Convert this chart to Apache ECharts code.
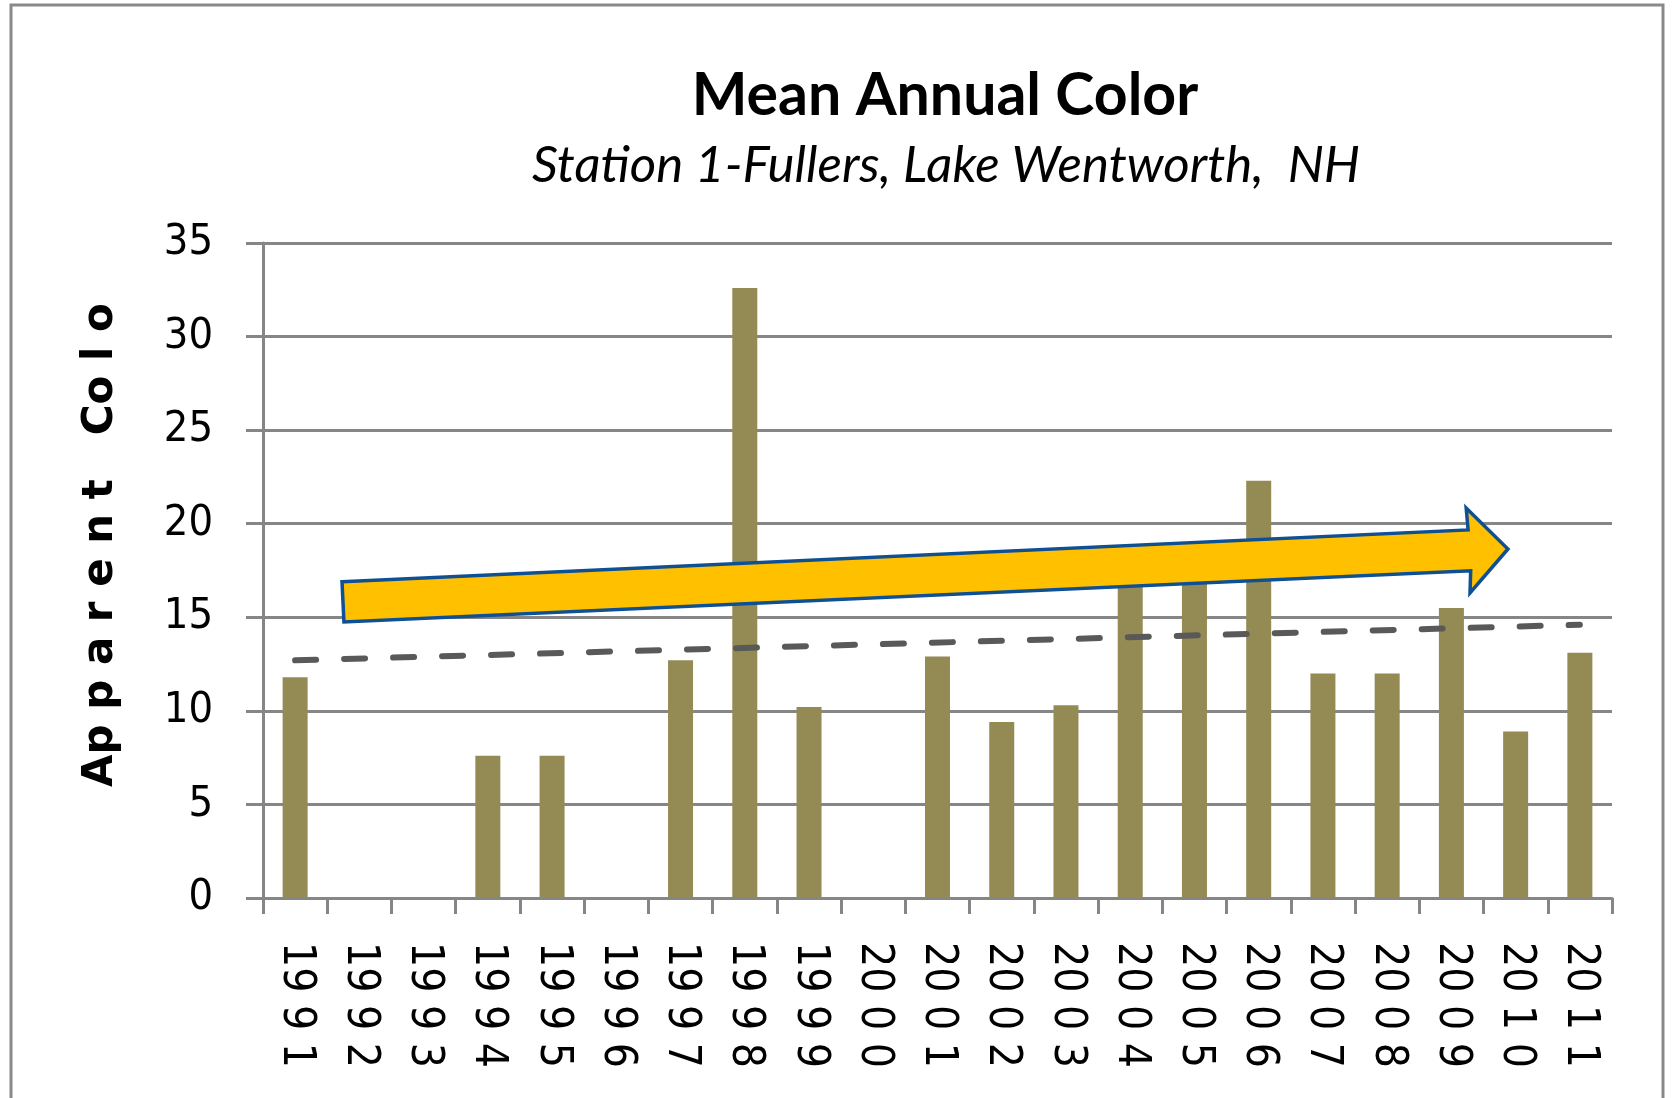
<!DOCTYPE html>
<html>
<head>
<meta charset="utf-8">
<title>Mean Annual Color</title>
<script src="https://cdn.jsdelivr.net/npm/echarts@6/dist/echarts.min.js"></script>
<style>
    html, body { margin: 0; padding: 0; background: #ffffff; }
    #chart { width: 1674px; height: 1098px; }
</style>
</head>
<body>
<div id="chart"></div>
<script>
    // data
    var years = ['1991', '1992', '1993', '1994', '1995', '1996', '1997', '1998', '1999', '2000',
        '2001', '2002', '2003', '2004', '2005', '2006', '2007', '2008', '2009', '2010', '2011'];
    var colorValues = [11.8, null, null, 7.6, 7.6, null, 12.7, 32.6, 10.2, null,
        12.9, 9.4, 10.3, 17.7, 18.0, 22.3, 12.0, 12.0, 15.5, 8.9, 13.1];
    var trendEnds = [12.7, 14.6];
    var yTicks = [0, 5, 10, 15, 20, 25, 30, 35];

    var titleText = 'Mean Annual Color';
    var subtitleText = 'Station 1-Fullers, Lake Wentworth,  NH';
    var yName = 'Ap p a r e n t   Co l o';

    var gray = '#868686';
    var labelFont = '"DejaVu Sans Condensed", "Liberation Sans", sans-serif';

    var trendData = years.map(function (y, i) {
        if (i === 0) return trendEnds[0];
        if (i === years.length - 1) return trendEnds[1];
        return null;
    });

    // yellow trend arrow, in (category index, value) space
    var arrowPoints = [
        [0.73, 16.9], [18.26, 19.67], [18.23, 20.84], [18.88, 18.65],
        [18.29, 16.30], [18.30, 17.48], [0.76, 14.75]
    ];

    var chart = echarts.init(document.getElementById('chart'));
    chart.setOption({
        animation: false,
        backgroundColor: '#ffffff',
        grid: {
            left: 263,
            right: 62,
            top: 243,
            bottom: 200
        },
        graphic: [
            {
                type: 'rect',
                shape: { x: 11, y: 5, width: 1652, height: 1200 },
                style: { fill: 'none', stroke: '#898989', lineWidth: 3 },
                silent: true
            },
            {
                type: 'text',
                x: 945,
                y: 96,
                style: {
                    text: titleText,
                    font: 'bold 59px Lato',
                    fill: '#000000',
                    align: 'center',
                    verticalAlign: 'middle'
                }
            },
            {
                type: 'text',
                x: 946,
                y: 166,
                style: {
                    text: subtitleText,
                    font: 'italic 51px Lato',
                    fill: '#000000',
                    align: 'center',
                    verticalAlign: 'middle'
                }
            },
            {
                type: 'text',
                x: 101,
                y: 787,
                rotation: Math.PI / 2,
                style: {
                    text: yName,
                    font: 'bold 42px "DejaVu Sans"',
                    fill: '#000000',
                    align: 'left',
                    verticalAlign: 'middle'
                }
            }
        ],
        xAxis: [
            {
                type: 'category',
                data: years,
                axisLine: { lineStyle: { color: gray, width: 3 } },
                axisTick: {
                    show: true,
                    interval: 0,
                    length: 16,
                    lineStyle: { color: gray, width: 3 }
                },
                axisLabel: {
                    interval: 0,
                    rotate: -90,
                    margin: 44,
                    fontSize: 44,
                    fontFamily: labelFont,
                    color: '#000000',
                    formatter: function (v) {
                        return v.slice(0, 2) + ' ' + v.charAt(2) + ' ' + v.charAt(3);
                    }
                },
                splitLine: { show: false }
            },
            {
                type: 'value',
                show: false,
                min: -0.5,
                max: years.length - 0.5
            }
        ],
        yAxis: {
            type: 'value',
            min: yTicks[0],
            max: yTicks[yTicks.length - 1],
            interval: yTicks[1] - yTicks[0],
            axisLine: { show: true, onZero: false, lineStyle: { color: gray, width: 3 } },
            axisTick: { show: true, length: 17, lineStyle: { color: gray, width: 3 } },
            axisLabel: {
                margin: 50,
                fontSize: 43,
                fontFamily: labelFont,
                color: '#000000'
            },
            splitLine: { show: true, lineStyle: { color: gray, width: 3 } }
        },
        series: [
            {
                name: 'Color',
                type: 'bar',
                data: colorValues,
                barWidth: 25,
                itemStyle: { color: '#948A54' },
                z: 2
            },
            {
                name: 'Trend',
                type: 'line',
                data: trendData,
                connectNulls: true,
                symbol: 'none',
                lineStyle: {
                    color: '#595959',
                    width: 6,
                    type: [21, 28],
                    cap: 'round'
                },
                z: 3
            },
            {
                name: 'Arrow',
                type: 'custom',
                xAxisIndex: 1,
                yAxisIndex: 0,
                data: [0],
                clip: false,
                silent: true,
                z: 5,
                renderItem: function (params, api) {
                    var pts = arrowPoints.map(function (p) {
                        return api.coord(p);
                    });
                    return {
                        type: 'polygon',
                        shape: { points: pts },
                        style: { fill: '#FFC000', stroke: '#0F4F93', lineWidth: 3.5 }
                    };
                }
            }
        ]
    });
</script>
</body>
</html>
